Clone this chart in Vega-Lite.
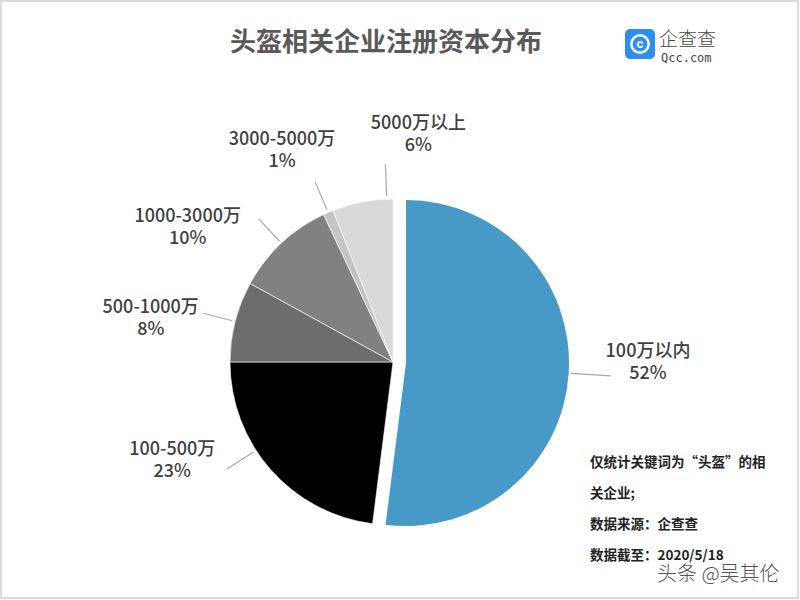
{
  "$schema": "https://vega.github.io/schema/vega-lite/v6.json",
  "autosize": {"type": "none"},
  "width": 786,
  "height": 476,
  "padding": {"top": 124, "left": 0, "right": 14, "bottom": 0},
  "background": "#ffffff",
  "config": {"view": {"stroke": null}},
  "layer": [
    {
      "data": {"values": [{}]},
      "mark": {"type": "rect", "x": 1, "x2": 798, "y": -123, "y2": 474, "filled": false, "stroke": "#dcdcdc", "strokeWidth": 2},
      "encoding": {}
    },
    {
      "data": {
        "values": [
          {"category": "100万以内", "share": 0.52, "rank": 1},
          {"category": "100-500万", "share": 0.23, "rank": 2},
          {"category": "500-1000万", "share": 0.08, "rank": 3},
          {"category": "1000-3000万", "share": 0.10, "rank": 4},
          {"category": "3000-5000万", "share": 0.01, "rank": 5},
          {"category": "5000万以上", "share": 0.06, "rank": 6}
        ]
      },
      "transform": [
        {"stack": "share", "groupby": [], "sort": [{"field": "rank", "order": "ascending"}], "as": ["s0", "s1"]},
        {"fold": ["s0", "s1"], "as": ["edge", "ang"]},
        {"aggregate": [{"op": "mean", "field": "ang", "as": "mid"}], "groupby": ["category", "share", "rank", "s0", "s1"]}
      ],
      "layer": [
        {
          "transform": [{"filter": "datum.rank != 1"}],
          "mark": {"type": "arc", "radius": 163, "stroke": "#ffffff", "strokeWidth": 0.6},
          "encoding": {
            "theta": {"field": "s0", "type": "quantitative", "scale": {"domain": [0, 1]}},
            "theta2": {"field": "s1"},
            "color": {
              "field": "category",
              "type": "nominal",
              "legend": null,
              "scale": {
                "domain": ["100万以内", "100-500万", "500-1000万", "1000-3000万", "3000-5000万", "5000万以上"],
                "range": ["#4799c7", "#000000", "#6d6d6d", "#818181", "#c4c4c4", "#d9d9d9"]
              }
            }
          }
        },
        {
          "transform": [{"filter": "datum.rank == 1"}],
          "mark": {"type": "arc", "radius": 163, "color": "#4799c7", "xOffset": 13, "yOffset": 1},
          "encoding": {
            "theta": {"field": "s0", "type": "quantitative"},
            "theta2": {"field": "s1"}
          }
        },
        {
          "transform": [{"filter": "datum.rank == 3 || datum.rank == 4 || datum.rank == 5"}],
          "mark": {"type": "arc", "radius": 166, "radius2": 196, "fillOpacity": 0, "stroke": "#a8a8a8", "strokeWidth": 1.2},
          "encoding": {
            "theta": {"field": "mid", "type": "quantitative"},
            "theta2": {"field": "mid"}
          }
        },
        {
          "transform": [{"filter": "datum.rank == 2 || datum.rank == 6"}],
          "mark": {"type": "arc", "radius": 166, "radius2": 198, "thetaOffset": 0.15, "theta2Offset": 0.15, "fillOpacity": 0, "stroke": "#a8a8a8", "strokeWidth": 1.2},
          "encoding": {
            "theta": {"field": "mid", "type": "quantitative"},
            "theta2": {"field": "mid"}
          }
        },
        {
          "transform": [{"filter": "datum.rank == 1"}],
          "mark": {"type": "arc", "radius": 165, "radius2": 205, "fillOpacity": 0, "stroke": "#a8a8a8", "strokeWidth": 1.2, "xOffset": 13, "yOffset": 1},
          "encoding": {
            "theta": {"field": "mid", "type": "quantitative"},
            "theta2": {"field": "mid"}
          }
        },
        {
          "transform": [{"filter": "datum.rank == 3"}],
          "mark": {"type": "text", "radius": 246, "dy": -11, "thetaOffset": -0.077, "font": "Noto Sans CJK SC", "fontSize": 18, "fontWeight": 500, "color": "#404040"},
          "encoding": {"theta": {"field": "mid", "type": "quantitative"}, "text": {"field": "category", "type": "nominal"}}
        },
        {
          "transform": [{"filter": "datum.rank == 3"}],
          "mark": {"type": "text", "radius": 246, "dy": 11, "thetaOffset": -0.077, "font": "Noto Sans CJK SC", "fontSize": 18, "fontWeight": 500, "color": "#404040"},
          "encoding": {"theta": {"field": "mid", "type": "quantitative"}, "text": {"field": "share", "type": "quantitative", "format": ".0%"}}
        },
        {
          "transform": [{"filter": "datum.rank == 5"}],
          "mark": {"type": "text", "radius": 238, "dy": -11, "thetaOffset": -0.077, "font": "Noto Sans CJK SC", "fontSize": 18, "fontWeight": 500, "color": "#404040"},
          "encoding": {"theta": {"field": "mid", "type": "quantitative"}, "text": {"field": "category", "type": "nominal"}}
        },
        {
          "transform": [{"filter": "datum.rank == 5"}],
          "mark": {"type": "text", "radius": 238, "dy": 11, "thetaOffset": -0.077, "font": "Noto Sans CJK SC", "fontSize": 18, "fontWeight": 500, "color": "#404040"},
          "encoding": {"theta": {"field": "mid", "type": "quantitative"}, "text": {"field": "share", "type": "quantitative", "format": ".0%"}}
        },
        {
          "transform": [{"filter": "datum.rank == 1"}],
          "mark": {"type": "text", "radius": 242, "dy": -11, "xOffset": 13, "thetaOffset": -0.06, "font": "Noto Sans CJK SC", "fontSize": 18, "fontWeight": 500, "color": "#404040"},
          "encoding": {"theta": {"field": "mid", "type": "quantitative"}, "text": {"field": "category", "type": "nominal"}}
        },
        {
          "transform": [{"filter": "datum.rank == 1"}],
          "mark": {"type": "text", "radius": 242, "dy": 11, "xOffset": 13, "thetaOffset": -0.06, "font": "Noto Sans CJK SC", "fontSize": 18, "fontWeight": 500, "color": "#404040"},
          "encoding": {"theta": {"field": "mid", "type": "quantitative"}, "text": {"field": "share", "type": "quantitative", "format": ".0%"}}
        },
        {
          "transform": [{"filter": "datum.rank == 2"}],
          "mark": {"type": "text", "radius": 242, "dy": -11, "thetaOffset": 0.3, "font": "Noto Sans CJK SC", "fontSize": 18, "fontWeight": 500, "color": "#404040"},
          "encoding": {"theta": {"field": "mid", "type": "quantitative"}, "text": {"field": "category", "type": "nominal"}}
        },
        {
          "transform": [{"filter": "datum.rank == 2"}],
          "mark": {"type": "text", "radius": 242, "dy": 11, "thetaOffset": 0.3, "font": "Noto Sans CJK SC", "fontSize": 18, "fontWeight": 500, "color": "#404040"},
          "encoding": {"theta": {"field": "mid", "type": "quantitative"}, "text": {"field": "share", "type": "quantitative", "format": ".0%"}}
        },
        {
          "transform": [{"filter": "datum.rank == 6"}],
          "mark": {"type": "text", "radius": 228, "dy": -11, "thetaOffset": 0.3, "font": "Noto Sans CJK SC", "fontSize": 18, "fontWeight": 500, "color": "#404040"},
          "encoding": {"theta": {"field": "mid", "type": "quantitative"}, "text": {"field": "category", "type": "nominal"}}
        },
        {
          "transform": [{"filter": "datum.rank == 6"}],
          "mark": {"type": "text", "radius": 228, "dy": 11, "thetaOffset": 0.3, "font": "Noto Sans CJK SC", "fontSize": 18, "fontWeight": 500, "color": "#404040"},
          "encoding": {"theta": {"field": "mid", "type": "quantitative"}, "text": {"field": "share", "type": "quantitative", "format": ".0%"}}
        },
        {
          "transform": [{"filter": "datum.rank == 4"}],
          "mark": {"type": "text", "radius": 245, "dy": -11, "thetaOffset": -0.24, "font": "Noto Sans CJK SC", "fontSize": 18, "fontWeight": 500, "color": "#404040"},
          "encoding": {"theta": {"field": "mid", "type": "quantitative"}, "text": {"field": "category", "type": "nominal"}}
        },
        {
          "transform": [{"filter": "datum.rank == 4"}],
          "mark": {"type": "text", "radius": 245, "dy": 11, "thetaOffset": -0.24, "font": "Noto Sans CJK SC", "fontSize": 18, "fontWeight": 500, "color": "#404040"},
          "encoding": {"theta": {"field": "mid", "type": "quantitative"}, "text": {"field": "share", "type": "quantitative", "format": ".0%"}}
        }
      ]
    },
    {
      "data": {"values": [{}]},
      "mark": {"type": "text", "text": "头盔相关企业注册资本分布", "x": 386, "y": -81, "align": "center", "baseline": "middle", "font": "Noto Sans CJK SC", "fontSize": 26, "fontWeight": "bold", "color": "#595959"},
      "encoding": {}
    },
    {
      "data": {"values": [{}]},
      "mark": {"type": "rect", "x": 625, "x2": 655, "y": -95, "y2": -65, "cornerRadius": 5, "color": "#2b8ef0"},
      "encoding": {}
    },
    {
      "data": {"values": [{}]},
      "mark": {"type": "point", "shape": "circle", "x": 640, "y": -80, "size": 300, "filled": false, "stroke": "#ffffff", "strokeWidth": 2.5, "opacity": 1},
      "encoding": {}
    },
    {
      "data": {"values": [{}]},
      "mark": {"type": "text", "text": "c", "x": 640, "y": -80, "align": "center", "baseline": "middle", "font": "Roboto", "fontSize": 13, "fontWeight": "bold", "color": "#ffffff"},
      "encoding": {}
    },
    {
      "data": {"values": [{}]},
      "mark": {"type": "text", "text": "企查查", "x": 659, "y": -84, "align": "left", "baseline": "middle", "font": "Noto Sans CJK SC", "fontSize": 19, "fontWeight": 300, "color": "#444444"},
      "encoding": {}
    },
    {
      "data": {"values": [{}]},
      "mark": {"type": "text", "text": "Qcc.com", "x": 661, "y": -66, "align": "left", "baseline": "middle", "font": "DejaVu Sans Mono", "fontSize": 12, "color": "#444444"},
      "encoding": {}
    },
    {
      "data": {"values": [{}]},
      "mark": {"type": "text", "text": ["仅统计关键词为“头盔”的相", "关企业;", "数据来源：企查查", "数据截至：2020/5/18"], "x": 590, "y": 339, "align": "left", "baseline": "middle", "lineHeight": 31, "font": "Noto Sans CJK SC", "fontSize": 13.5, "fontWeight": "bold", "color": "#222222"},
      "encoding": {}
    },
    {
      "data": {"values": [{}]},
      "mark": {"type": "text", "text": "头条 @吴其伦", "x": 657, "y": 451, "align": "left", "baseline": "middle", "font": "Noto Sans CJK SC", "fontSize": 20, "fontWeight": 300, "color": "#555555"},
      "encoding": {}
    }
  ]
}
